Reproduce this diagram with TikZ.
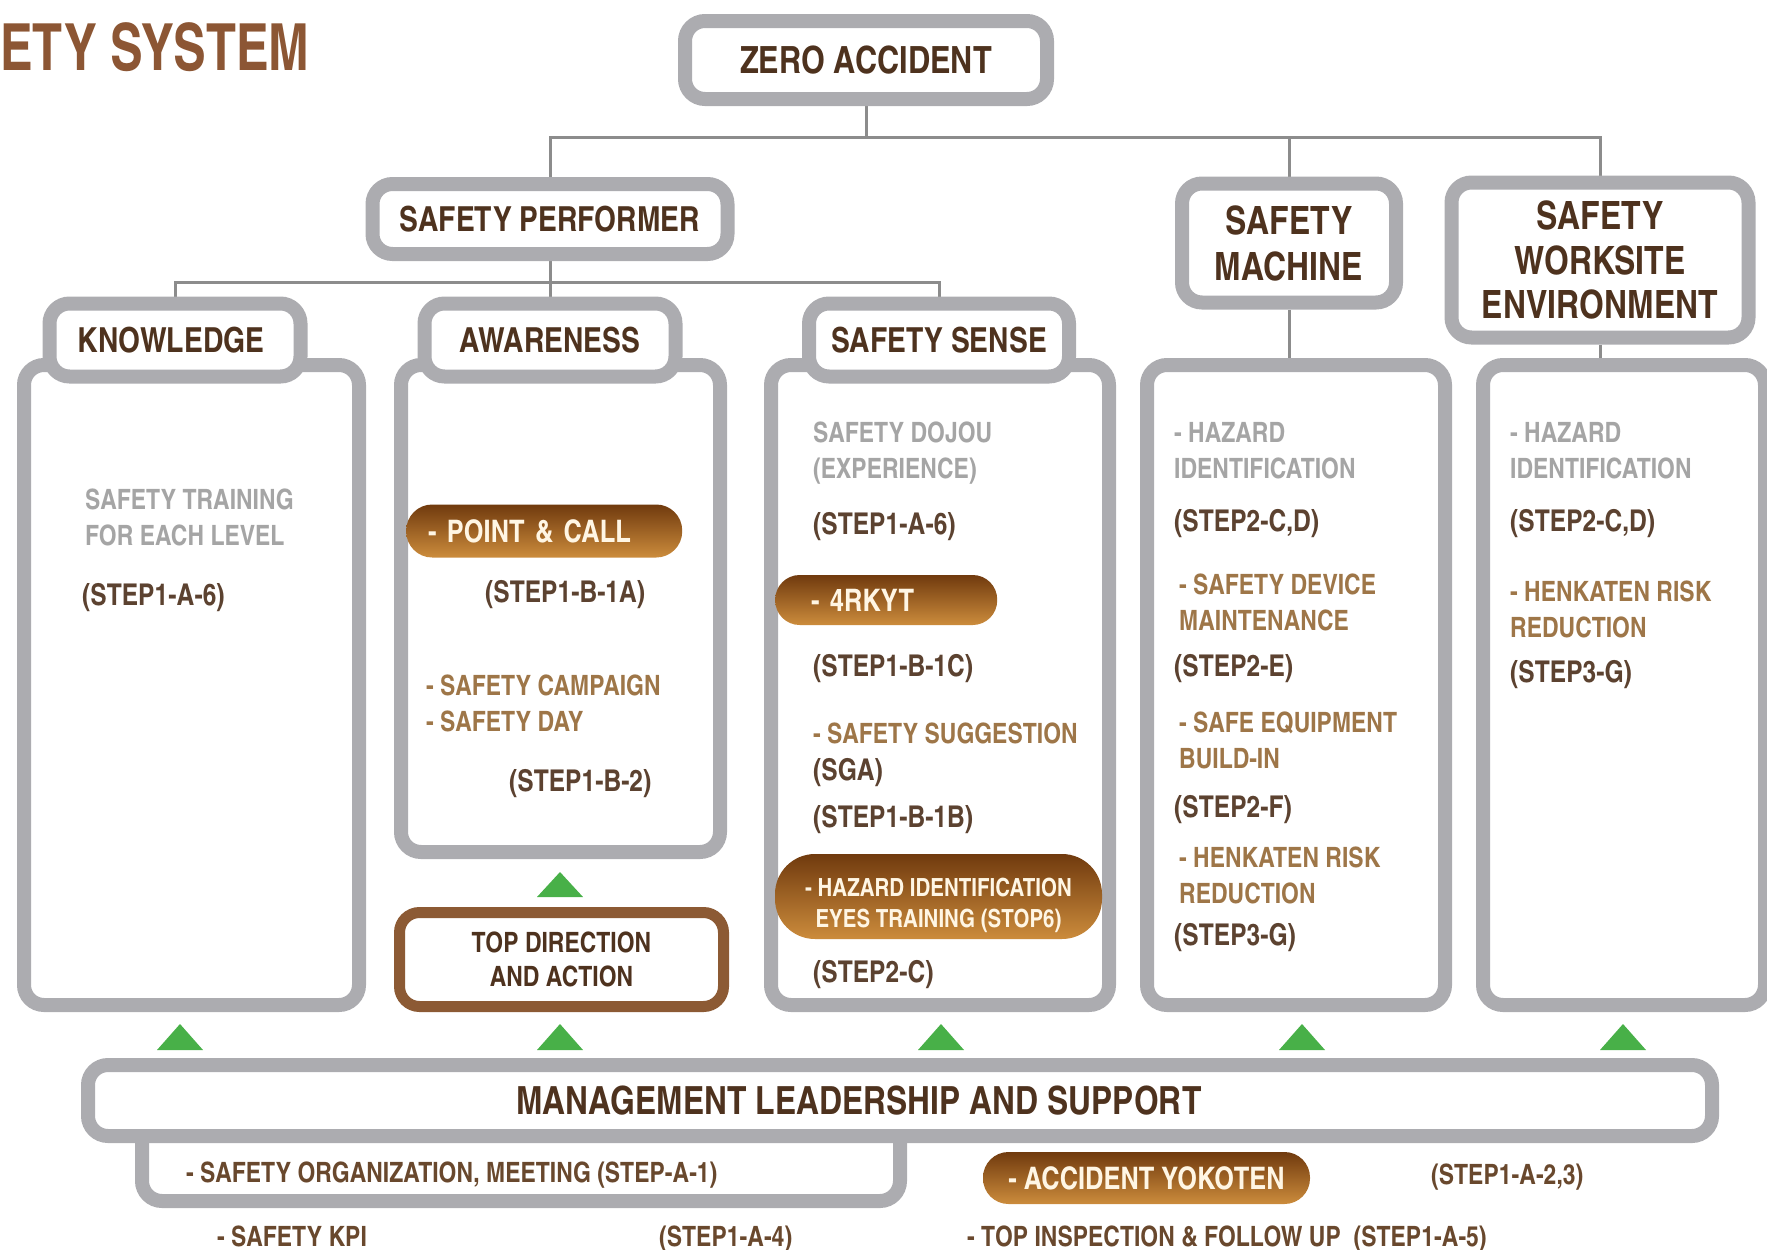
\documentclass[tikz,border=0pt]{standalone}
\usepackage{fontspec}
\usetikzlibrary{backgrounds}
\newfontfamily\cnb{texgyreheroscn-bold.otf}
\newfontfamily\cnt{texgyreheroscn-bold.otf}[FakeStretch=0.92]
\definecolor{frame}{RGB}{172,172,176}
\definecolor{wire}{RGB}{140,140,140}
\definecolor{headc}{RGB}{78,50,30}
\definecolor{stepc}{RGB}{92,66,48}
\definecolor{botc}{RGB}{105,72,45}
\definecolor{tanc}{RGB}{158,118,72}
\definecolor{grayc}{RGB}{165,165,165}
\definecolor{titlec}{RGB}{140,86,52}
\definecolor{brn}{RGB}{140,90,52}
\definecolor{grn}{RGB}{72,176,72}
\definecolor{pilltop}{RGB}{112,58,14}
\definecolor{pillbot}{RGB}{204,140,60}
\definecolor{pilltxt}{RGB}{255,246,228}
\tikzset{
  box/.style={draw=frame,line width=14pt,fill=white,rounded corners=20pt,text=headc,align=center,inner sep=0pt},
  hdr/.style={box,font=\cnb\fontsize{34.5}{40}\selectfont},
  hdrl/.style={box,font=\cnb\fontsize{39}{46}\selectfont},
  panel/.style={draw=frame,line width=14pt,fill=white,rounded corners=20pt},
  txt/.style={anchor=north west,inner sep=0pt,align=left,font=\cnb\fontsize{28}{36}\selectfont},
  stp/.style={txt,text=stepc,font=\cnb\fontsize{30}{36}\selectfont},
  tanl/.style={txt,text=tanc},
  gryl/.style={txt,text=grayc},
  botl/.style={txt,text=botc},
  pill/.style={rectangle,top color=pilltop,bottom color=pillbot,text=pilltxt,inner sep=0pt,font=\cnb\fontsize{31}{36}\selectfont},
  link/.style={draw=wire,line width=3pt},
}

\begin{document}
\begin{tikzpicture}[x=1pt,y=1pt]
  \useasboundingbox (0,0) rectangle (1767,-1250);
  \clip (0,0) rectangle (1767,-1250);

  % title, cut at the left edge
  \node[anchor=base west,inner sep=0pt,text=titlec,font=\cnt\fontsize{65}{70}\selectfont] (title) at (0,-70) {ETY SYSTEM};

  % top of the tree
  \node[box,minimum width=362,minimum height=78,font=\cnb\fontsize{37.5}{42}\selectfont] (zero) at (866,-60) {ZERO ACCIDENT};
  \node[hdr,minimum width=355,minimum height=70] (perf) at (550,-219) {SAFETY PERFORMER};

  % big panels
  \node[panel,minimum width=335,minimum height=640] (knowB)  at (191.5,-685) {};
  \node[panel,minimum width=319,minimum height=487] (awareB) at (560.5,-608.5) {};
  \node[panel,minimum width=338,minimum height=640] (senseB) at (940,-685) {};
  \node[panel,minimum width=298,minimum height=640] (machB)  at (1296,-685) {};
  \node[panel,minimum width=282,minimum height=640] (envB)   at (1624,-685) {};

  % tabs
  \node[hdr,minimum width=251,minimum height=73] (know)  at (175,-340) {KNOWLEDGE\hspace*{8pt}};
  \node[hdr,minimum width=251,minimum height=73] (aware) at (550,-340) {AWARENESS};
  \node[hdr,minimum width=260,minimum height=73] (sense) at (939,-340) {SAFETY SENSE};
  \node[hdrl,minimum width=214,minimum height=119] (mach) at (1289,-243) {SAFETY\\MACHINE};
  \node[hdrl,minimum width=297,minimum height=155,font=\cnb\fontsize{39}{44.5}\selectfont] (env) at (1600,-260) {SAFETY\\WORKSITE\\ENVIRONMENT};

  % tree lines
  \coordinate (bus)  at (866,-137);
  \coordinate (sbus) at (550,-282);
  \begin{scope}[on background layer]
    \draw[link] (zero.south) -- (bus);
    \draw[link] (perf.north) |- (bus) -| (mach.north);
    \draw[link] (bus) -| (env.north);
    \draw[link] (perf.south) -- (aware.north);
    \draw[link] (know.north) |- (sbus) -| (sense.north);
    \draw[link] (mach.south) -- (mach.south |- machB.north);
    \draw[link] (env.south) -- (env.south |- envB.north);
  \end{scope}

  % knowledge
  \node[gryl] (k1) at (85,-489) {SAFETY TRAINING\\FOR EACH LEVEL};
  \node[stp]  (k2) at (82,-583) {(STEP1-A-6)};

  % awareness
  \node[pill,anchor=west,minimum width=276,minimum height=53,rounded corners=26pt,text width=232,inner xsep=22,align=left] (a1) at (406,-531) {- POINT \& CALL};
  \node[stp]  (a2) at (485,-580) {(STEP1-B-1A)};
  \node[tanl] (a3) at (426,-675) {- SAFETY CAMPAIGN\\- SAFETY DAY};
  \node[stp]  (a4) at (509,-769) {(STEP1-B-2)};

  % safety sense
  \node[gryl] (s1) at (813,-422) {SAFETY DOJOU\\(EXPERIENCE)};
  \node[stp]  (s2) at (813,-512) {(STEP1-A-6)};
  \node[pill,anchor=west,minimum width=222,minimum height=50,rounded corners=24.5pt,text width=150,inner xsep=36,align=left] (s3) at (775,-600) {- 4RKYT};
  \node[stp]  (s4) at (813,-654) {(STEP1-B-1C)};
  \node[tanl] (s5) at (813,-723) {- SAFETY SUGGESTION};
  \node[stp]  (s6) at (813,-758) {(SGA)};
  \node[stp]  (s7) at (813,-805) {(STEP1-B-1B)};
  \node[pill,minimum width=327,minimum height=85,rounded corners=40pt,align=center,font=\cnb\fontsize{25}{31}\selectfont] (s8) at (938.5,-896.5) {\rule{0pt}{36pt}- HAZARD IDENTIFICATION\\EYES TRAINING (STOP6)};
  \node[stp]  (s9) at (813,-960) {(STEP2-C)};

  % safety machine
  \node[gryl] (m1) at (1174,-422) {- HAZARD\\IDENTIFICATION};
  \node[stp]  (m2) at (1174,-509) {(STEP2-C,D)};
  \node[tanl] (m3) at (1179,-574) {- SAFETY DEVICE\\MAINTENANCE};
  \node[stp]  (m4) at (1174,-654) {(STEP2-E)};
  \node[tanl] (m5) at (1179,-712) {- SAFE EQUIPMENT\\BUILD-IN};
  \node[stp]  (m6) at (1174,-795) {(STEP2-F)};
  \node[tanl] (m7) at (1179,-847) {- HENKATEN RISK\\REDUCTION};
  \node[stp]  (m8) at (1174,-923) {(STEP3-G)};

  % worksite environment
  \node[gryl] (e1) at (1510,-422) {- HAZARD\\IDENTIFICATION};
  \node[stp]  (e2) at (1510,-509) {(STEP2-C,D)};
  \node[tanl] (e3) at (1510,-581) {- HENKATEN RISK\\REDUCTION};
  \node[stp]  (e4) at (1510,-660) {(STEP3-G)};

  % top direction
  \node[draw=brn,line width=11pt,fill=white,rounded corners=20pt,minimum width=324,minimum height=94,align=center,text=headc,font=\cnb\fontsize{28}{34}\selectfont] (top) at (561.5,-959.5) {TOP DIRECTION\\AND ACTION};

  % green arrows
  \fill[grn] (537,-897) -- (583,-897) -- (560,-872) -- cycle;
  \foreach \x in {180,560,941,1302,1623}
    \fill[grn] (\x-23,-1050) -- (\x+23,-1050) -- (\x,-1024) -- cycle;

  % management band
  \node[panel,minimum width=758,minimum height=96] (org) at (521,-1153) {};
  \node[box,minimum width=1624,minimum height=71,font=\cnb\fontsize{38.8}{44}\selectfont] (mgmt) at (900,-1100.5) {MANAGEMENT LEADERSHIP AND SUPPORT\hspace*{82pt}};
  \node[botl] (b1) at (186,-1162) {- SAFETY ORGANIZATION, MEETING (STEP-A-1)};
  \node[pill,minimum width=327,minimum height=52,rounded corners=25.5pt] (b2) at (1146.5,-1178) {- ACCIDENT YOKOTEN};
  \node[botl] (b3) at (1431,-1164) {(STEP1-A-2,3)};
  \node[botl] (b4) at (217,-1226) {- SAFETY KPI};
  \node[botl] (b5) at (659,-1226) {(STEP1-A-4)};
  \node[botl] (b6) at (967,-1226) {- TOP INSPECTION \& FOLLOW UP~~(STEP1-A-5)};
\end{tikzpicture}
\end{document}
